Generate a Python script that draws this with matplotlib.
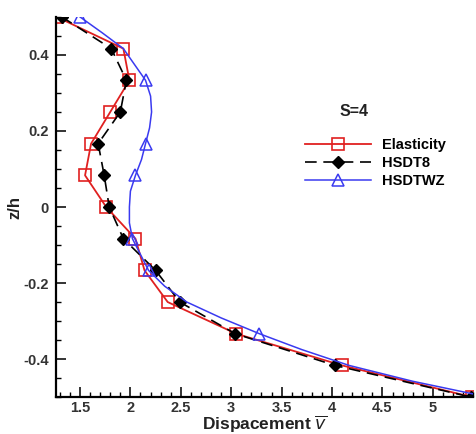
import numpy as np
import matplotlib
matplotlib.use('Agg')
import matplotlib.pyplot as plt
from matplotlib.ticker import MultipleLocator

plt.rcParams['font.family'] = ['Liberation Sans', 'DejaVu Sans']

# z/h levels for the two discrete series
z = [0.5, 0.4167, 0.3333, 0.25, 0.1667, 0.0833, 0.0,
     -0.0833, -0.1667, -0.25, -0.3333, -0.4167, -0.5]
v_elast = [1.27, 1.93, 1.99, 1.80, 1.61, 1.55, 1.76,
           2.05, 2.14, 2.37, 3.05, 4.10, 5.39]
v_hsdt8 = [1.32, 1.81, 1.96, 1.90, 1.68, 1.74, 1.79,
           1.93, 2.25, 2.49, 3.04, 4.03, 5.38]

# HSDTWZ is a finer curve, markers only on some points
z_wz = [0.5, 0.4583, 0.4167, 0.375, 0.3333, 0.2917, 0.25, 0.2083, 0.1667,
        0.125, 0.0833, 0.0417, 0.0, -0.0417, -0.0833, -0.125, -0.1667,
        -0.2083, -0.25, -0.2917, -0.3333, -0.375, -0.4167, -0.4583, -0.5]
v_wz = [1.50, 1.72, 1.93, 2.04, 2.15, 2.20, 2.21, 2.19, 2.15,
        2.11, 2.05, 2.00, 1.99, 1.99, 2.02, 2.10, 2.18,
        2.34, 2.56, 2.90, 3.28, 3.70, 4.17, 4.80, 5.55]
wz_marks = [0, 4, 8, 10, 14, 16, 20]

fig = plt.figure(figsize=(4.77, 4.34), dpi=100)
ax = fig.add_axes([0.117, 0.085, 0.875, 0.876])

ax.plot(v_elast, z, '-', color='#e02020', linewidth=1.3, marker='s', markersize=8.5,
        markerfacecolor='none', markeredgecolor='#e02020', markeredgewidth=1.2,
        label='Elasticity')
ax.plot(v_hsdt8, z, '--', color='black', linewidth=1.2, dashes=(7, 4), marker='D',
        markersize=6, markerfacecolor='black', markeredgecolor='black',
        label='HSDT8')
ax.plot(v_wz, z_wz, '-', color='#3a3af0', linewidth=1.1, marker='^', markersize=8.5,
        markevery=wz_marks, markerfacecolor='none', markeredgecolor='#3a3af0',
        markeredgewidth=1.1, label='HSDTWZ')

ax.set_xlim(1.26, 5.4)
ax.set_ylim(-0.5, 0.5)

ax.spines['top'].set_visible(False)
ax.spines['right'].set_visible(False)
ax.spines['left'].set_linewidth(1.6)
ax.spines['bottom'].set_linewidth(1.6)

ax.xaxis.set_minor_locator(MultipleLocator(0.1))
ax.yaxis.set_minor_locator(MultipleLocator(0.05))
ax.set_yticks([-0.4, -0.2, 0, 0.2, 0.4])
ax.set_yticklabels(['-0.4', '-0.2', '0', '0.2', '0.4'])
ax.set_xticks([1.5, 2, 2.5, 3, 3.5, 4, 4.5, 5])
ax.set_xticklabels(['1.5', '2', '2.5', '3', '3.5', '4', '4.5', '5'])
ax.tick_params(which='major', direction='in', length=7, width=1.4,
               labelsize=10.5, colors='#333333')
ax.tick_params(axis='x', which='major', pad=3)
ax.tick_params(axis='y', which='major', pad=5)
ax.tick_params(which='minor', direction='in', length=3.5, width=1.0)
for lab in ax.get_xticklabels() + ax.get_yticklabels():
    lab.set_fontweight('bold')

ax.set_xlabel(r'Dispacement $\overline{v}$', fontsize=12.5, fontweight='bold',
              color='#222222', labelpad=-1)
ax.set_ylabel('z/h', fontsize=12, fontweight='bold', color='#222222')
ax.yaxis.set_label_coords(-0.08, 0.5)

# S=4 heading sits above the legend, a bit left of its centre
fig.text(354 / 477, 1 - 111 / 434, 'S=4', fontsize=11.5, fontweight='bold',
         ha='center', va='center', color='#222222')
leg = ax.legend(loc='center left', bbox_to_anchor=(292 / 477, 1 - 163 / 434),
                bbox_transform=fig.transFigure, frameon=False,
                prop={'weight': 'bold', 'size': 10.5}, handlelength=4.5,
                handletextpad=0.8, labelspacing=0.28)

fig.savefig('out.png', dpi=100)
